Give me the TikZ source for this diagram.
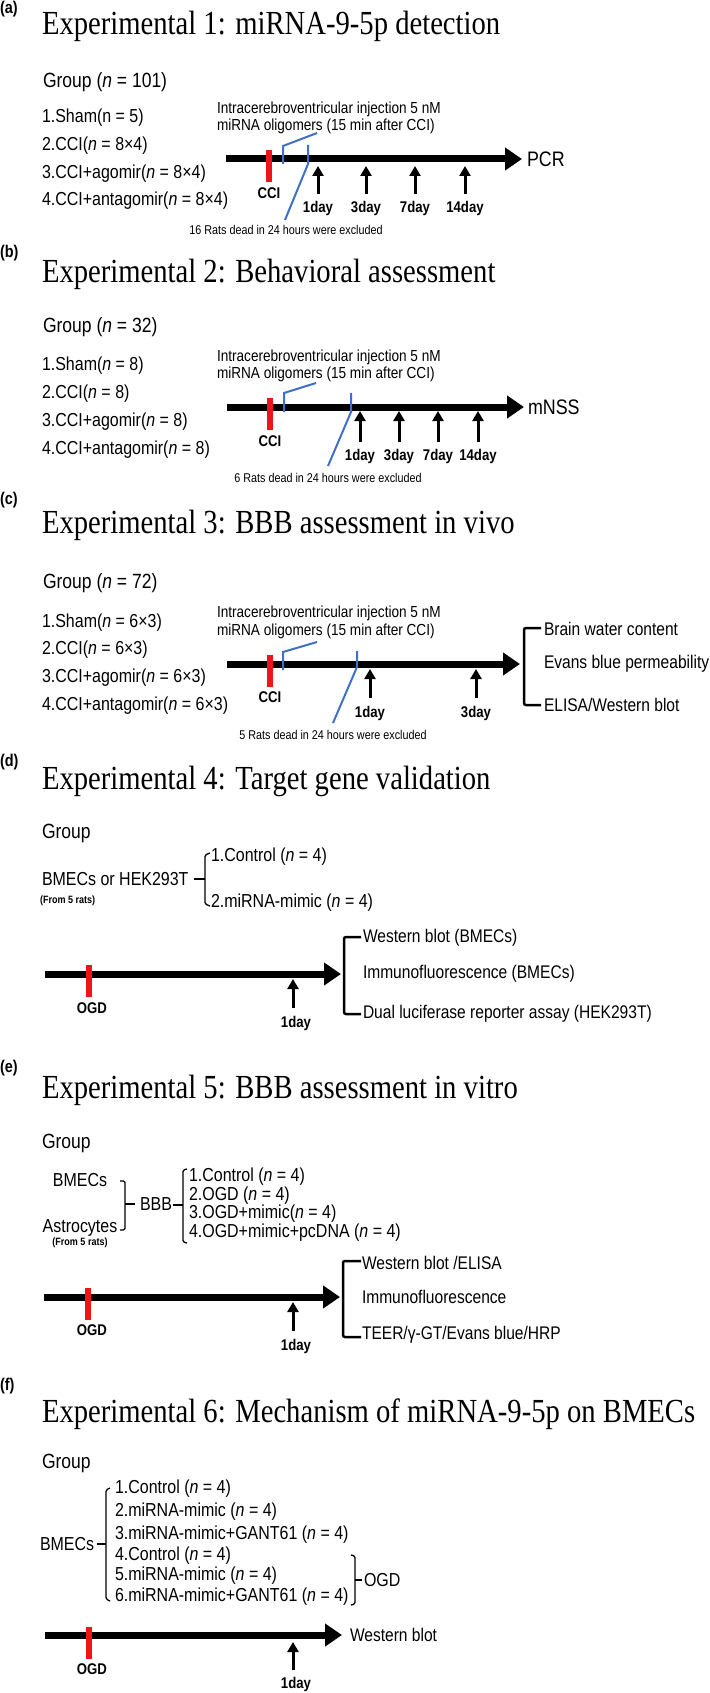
\documentclass[tikz,border=0pt]{standalone}
\usepackage{fontspec}
\setmainfont{Liberation Serif}[FakeStretch=0.85]
\setsansfont{Liberation Sans}[FakeStretch=0.85]
\usetikzlibrary{arrows.meta}
\definecolor{bluel}{RGB}{62,112,200}
\definecolor{redb}{RGB}{240,20,20}
\newcommand\myfs[1]{\fontsize{#1}{#1}\selectfont}
\begin{document}
\begin{tikzpicture}[x=1pt,y=-1pt,
  every node/.style={inner sep=0pt, outer sep=0pt},
  ttl/.style={anchor=base west, font=\rmfamily\myfs{33.7}},
  plab/.style={anchor=west, font=\sffamily\bfseries\myfs{17}},
  grp/.style={anchor=west, font=\sffamily\myfs{20.6}},
  itm/.style={anchor=west, font=\sffamily\myfs{18.8}},
  inj/.style={anchor=west, font=\sffamily\myfs{16}},
  rats/.style={font=\sffamily\myfs{12.7}},
  dlab/.style={font=\sffamily\bfseries\myfs{15.5}},
  outt/.style={anchor=west, font=\sffamily\myfs{18.3}},
  endt/.style={anchor=west, font=\sffamily\myfs{21}},
  src/.style={anchor=west, font=\sffamily\bfseries\myfs{10.6}},
  tline/.style={line width=7pt, -{Triangle[length=17pt,width=22pt]}},
  redbar/.style={line width=6pt, draw=redb},
  bline/.style={line width=2pt, draw=bluel},
  uparr/.style={line width=3pt, -{Triangle[length=10pt,width=11pt]}},
  brk/.style={line width=2.5pt, rounded corners=2pt},
  tbrk/.style={line width=1.3pt, rounded corners=1.5pt},
]
\useasboundingbox (0,0) rectangle (709,1693);

%% ---------------- (a)
\node[plab] (la) at (0,9) {(a)};
\node[ttl] (ta) at (42,35) {Experimental 1: miRNA-9-5p detection};
\node[grp] (ga) at (43,82) {Group (\textit{n} = 101)};
\node[itm] (a1) at (42,118) {1.Sham(n = 5)};
\node[itm] (a2) at (42,146) {2.CCI(\textit{n} = 8×4)};
\node[itm] (a3) at (42,174) {3.CCI+agomir(\textit{n} = 8×4)};
\node[itm] (a4) at (42,201) {4.CCI+antagomir(\textit{n} = 8×4)};
\node[inj] (ai1) at (217,109) {Intracerebroventricular injection 5 nM};
\node[inj] (ai2) at (217,126) {miRNA oligomers (15 min after CCI)};
\coordinate (as) at (226,159); \coordinate (ae) at (522,159);
\draw[tline] (as) -- (ae);
\node[endt] (apcr) at (527,159) {PCR};
\coordinate (ar1) at (269,150); \coordinate (ar2) at (269,182);
\draw[redbar] (ar1) -- (ar2);
\node[dlab] (acci) at (269,193) {CCI};
\draw[bline] (283,164) -- (283,146) -- (317,133);
\coordinate (ab2) at (285,220);
\draw[bline] (308,145) -- (308,164) -- (ab2);
\node[rats] (arats) at (286,230) {16 Rats dead in 24 hours were excluded};
\foreach \x/\t/\n in {318/1day/1,366/3day/2,415/7day/3,465/14day/4}{
  \coordinate (au\n) at (\x,194); \coordinate (av\n) at (\x,166);
  \draw[uparr] (au\n) -- (av\n);
  \node[dlab] (ad\n) at (\x,208) {\t};
}

%% ---------------- (b)
\node[plab] (lb) at (0,253) {(b)};
\node[ttl] (tb) at (42,283) {Experimental 2: Behavioral assessment};
\node[grp] (gb) at (43,327) {Group (\textit{n} = 32)};
\node[itm] (b1) at (42,366) {1.Sham(\textit{n} = 8)};
\node[itm] (b2) at (42,394) {2.CCI(\textit{n} = 8)};
\node[itm] (b3) at (42,422) {3.CCI+agomir(\textit{n} = 8)};
\node[itm] (b4) at (42,450) {4.CCI+antagomir(\textit{n} = 8)};
\node[inj] (bi1) at (217,357) {Intracerebroventricular injection 5 nM};
\node[inj] (bi2) at (217,374) {miRNA oligomers (15 min after CCI)};
\coordinate (bs) at (227,407); \coordinate (be) at (524,407);
\draw[tline] (bs) -- (be);
\node[endt] (bm) at (528,407) {mNSS};
\coordinate (br1) at (270,398); \coordinate (br2) at (270,430);
\draw[redbar] (br1) -- (br2);
\node[dlab] (bcci) at (270,441) {CCI};
\draw[bline] (284,412) -- (284,393) -- (316,383);
\draw[bline] (351,393) -- (351,412) -- (328,466);
\node[rats] (brats) at (328,478) {6 Rats dead in 24 hours were excluded};
\foreach \x/\t/\n in {360/1day/1,399/3day/2,438/7day/3,478/14day/4}{
  \coordinate (bu\n) at (\x,442); \coordinate (bv\n) at (\x,411);
  \draw[uparr] (bu\n) -- (bv\n);
  \node[dlab] (bd\n) at (\x,456) {\t};
}

%% ---------------- (c)
\node[plab] (lc) at (0,500) {(c)};
\node[ttl] (tc) at (42,533) {Experimental 3: BBB assessment in vivo};
\node[grp] (gc) at (43,583) {Group (\textit{n} = 72)};
\node[itm] (c1) at (42,623) {1.Sham(\textit{n} = 6×3)};
\node[itm] (c2) at (42,650) {2.CCI(\textit{n} = 6×3)};
\node[itm] (c3) at (42,678) {3.CCI+agomir(\textit{n} = 6×3)};
\node[itm] (c4) at (42,706) {4.CCI+antagomir(\textit{n} = 6×3)};
\node[inj] (ci1) at (217,613) {Intracerebroventricular injection 5 nM};
\node[inj] (ci2) at (217,631) {miRNA oligomers (15 min after CCI)};
\coordinate (cs) at (227,664); \coordinate (ce) at (520,664);
\draw[tline] (cs) -- (ce);
\coordinate (cr1) at (270,655); \coordinate (cr2) at (270,687);
\draw[redbar] (cr1) -- (cr2);
\node[dlab] (ccci) at (270,697) {CCI};
\draw[bline] (283,670) -- (283,652) -- (317,642);
\draw[bline] (357,651) -- (357,667) -- (333,723);
\node[rats] (crats) at (333,735) {5 Rats dead in 24 hours were excluded};
\foreach \x/\t/\n in {370/1day/1,476/3day/2}{
  \coordinate (cu\n) at (\x,698); \coordinate (cv\n) at (\x,669);
  \draw[uparr] (cu\n) -- (cv\n);
  \node[dlab] (cd\n) at (\x,713) {\t};
}
\node[outt] (co1) at (544,629) {Brain water content};
\node[outt] (co2) at (544,664) {Evans blue permeability};
\node[outt] (co3) at (544,705) {ELISA/Western blot};
\draw[brk] (541,628) -- (524,628) -- (524,705) -- (541,705);

%% ---------------- (d)
\node[plab] (ld) at (0,762) {(d)};
\node[ttl] (td) at (42,789) {Experimental 4: Target gene validation};
\node[grp] (gd) at (42,833) {Group};
\node[itm] (dsrc) at (42,879) {BMECs or HEK293T};
\node[src] (dfr) at (40,901) {(From 5 rats)};
\node[itm] (d1) at (211,857) {1.Control (\textit{n} = 4)};
\node[itm] (d2) at (211,903) {2.miRNA-mimic (\textit{n} = 4)};
\draw[tbrk] (194,879) -- (205,879);
\draw[tbrk] (210,853) -- (205,855) -- (205,904) -- (210,906);
\coordinate (ds) at (45,974); \coordinate (de) at (341,974);
\draw[tline] (ds) -- (de);
\coordinate (dr1) at (89,965); \coordinate (dr2) at (89,997);
\draw[redbar] (dr1) -- (dr2);
\node[dlab] (dogd) at (92,1008) {OGD};
\coordinate (du) at (293,1008); \coordinate (dv) at (293,979);
\draw[uparr] (du) -- (dv);
\node[dlab] (dd) at (296,1023) {1day};
\draw[brk] (361,937) -- (344,937) -- (344,1014) -- (361,1014);
\node[outt] (do1) at (363,938) {Western blot (BMECs)};
\node[outt] (do2) at (363,974) {Immunofluorescence (BMECs)};
\node[outt] (do3) at (363,1014) {Dual luciferase reporter assay (HEK293T)};

%% ---------------- (e)
\node[plab] (le) at (0,1068) {(e)};
\node[ttl] (te) at (42,1098) {Experimental 5: BBB assessment in vitro};
\node[grp] (ge) at (42,1143) {Group};
\node[itm, anchor=center] (ebm) at (80,1180) {BMECs};
\node[itm, anchor=center] (eas) at (80,1228) {Astrocytes};
\node[src, anchor=center] (efr) at (80,1243) {(From 5 rats)};
\draw[tbrk] (120,1181) -- (125,1181) -- (125,1230) -- (120,1230);
\draw[tbrk] (125,1204) -- (135,1204);
\node[itm] (ebbb) at (140,1204) {BBB};
\draw[tbrk] (173,1205) -- (183,1205);
\draw[tbrk] (187,1169) -- (183,1170) -- (183,1242) -- (187,1243);
\node[itm] (e1) at (189,1177) {1.Control (\textit{n} = 4)};
\node[itm] (e2) at (189,1196) {2.OGD (\textit{n} = 4)};
\node[itm] (e3) at (189,1214) {3.OGD+mimic(\textit{n} = 4)};
\node[itm] (e4) at (189,1233) {4.OGD+mimic+pcDNA (\textit{n} = 4)};
\coordinate (es) at (44,1297); \coordinate (ee) at (340,1297);
\draw[tline] (es) -- (ee);
\coordinate (er1) at (88,1288); \coordinate (er2) at (88,1320);
\draw[redbar] (er1) -- (er2);
\node[dlab] (eogd) at (92,1330) {OGD};
\coordinate (eu) at (293,1331); \coordinate (ev) at (293,1302);
\draw[uparr] (eu) -- (ev);
\node[dlab] (ed) at (296,1346) {1day};
\draw[brk] (361,1261) -- (343,1261) -- (343,1337) -- (361,1337);
\node[outt] (eo1) at (362,1263) {Western blot /ELISA};
\node[outt] (eo2) at (362,1297) {Immunofluorescence};
\node[outt] (eo3) at (362,1335) {TEER/γ-GT/Evans blue/HRP};

%% ---------------- (f)
\node[plab] (lf) at (0,1386) {(f)};
\node[ttl] (tf) at (42,1422) {Experimental 6: Mechanism of miRNA-9-5p on BMECs};
\node[grp] (gf) at (42,1463) {Group};
\node[itm] (fbm) at (40,1544) {BMECs};
\draw[tbrk] (97,1544) -- (106,1544);
\draw[tbrk] (110,1488) -- (106,1490) -- (106,1599) -- (110,1601);
\node[itm] (f1) at (115,1489) {1.Control (\textit{n} = 4)};
\node[itm] (f2) at (115,1512) {2.miRNA-mimic (\textit{n} = 4)};
\node[itm] (f3) at (115,1535) {3.miRNA-mimic+GANT61 (\textit{n} = 4)};
\node[itm] (f4) at (115,1556) {4.Control (\textit{n} = 4)};
\node[itm] (f5) at (115,1576) {5.miRNA-mimic (\textit{n} = 4)};
\node[itm] (f6) at (115,1597) {6.miRNA-mimic+GANT61 (\textit{n} = 4)};
\draw[tbrk] (351,1555) -- (355,1556) -- (355,1604) -- (351,1605);
\draw[tbrk] (355,1580) -- (362,1580);
\node[itm] (fogdg) at (364,1580) {OGD};
\coordinate (fs) at (45,1635); \coordinate (fe) at (342,1635);
\draw[tline] (fs) -- (fe);
\node[outt] (fwb) at (350,1635) {Western blot};
\coordinate (fr1) at (89,1627); \coordinate (fr2) at (89,1659);
\draw[redbar] (fr1) -- (fr2);
\node[dlab] (fogd) at (92,1669) {OGD};
\coordinate (fu) at (293,1670); \coordinate (fv) at (293,1642);
\draw[uparr] (fu) -- (fv);
\node[dlab] (fd) at (296,1684) {1day};
\end{tikzpicture}
\end{document}
